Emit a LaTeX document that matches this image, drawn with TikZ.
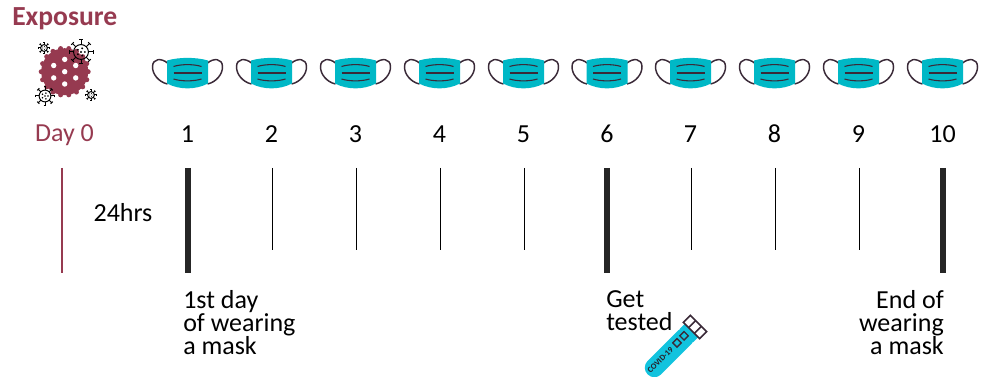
\documentclass[tikz,border=0pt]{standalone}
\usepackage{fontspec}
\setmainfont{Carlito}
\usepackage{xcolor}
\usetikzlibrary{arrows.meta, positioning}
\definecolor{maroon}{HTML}{963A50}
\definecolor{teal}{HTML}{00B8C6}
\definecolor{strap}{HTML}{3A2A38}
\definecolor{tube}{HTML}{12C3DE}

\begin{document}
\begin{tikzpicture}[
  x=0.75pt, y=-0.75pt,
  every node/.style={font=\fontsize{19.5}{17.25}\selectfont, inner sep=0pt},
  daylbl/.style={anchor=center, text=black},
  notelbl/.style={align=left, anchor=north west, text=black},
  thickbar/.style={line width=3.9pt, draw=black!85},
  thinbar/.style={line width=0.6pt, draw=black},
  mask/.pic={
    \draw[strap, line width=1.1pt] (-20,-10) .. controls (-26,-15) and (-35,-15) .. (-35,-6)
      .. controls (-35,1) and (-29,9) .. (-20,11);
    \draw[strap, line width=1.1pt] (20,-10) .. controls (26,-15) and (35,-15) .. (35,-6)
      .. controls (35,1) and (29,9) .. (20,11);
    \fill[teal] (-20.5,-12.5) .. controls (-8,-16) and (8,-16) .. (20.5,-12.5)
      -- (20.5,10.5) .. controls (8,17) and (-8,17) .. (-20.5,10.5) -- cycle;
    \draw[strap, line width=0.8pt] (-14,-6.5) .. controls (-6,-9) and (6,-9) .. (14,-6.5);
    \draw[strap, line width=0.9pt] (-14,0) -- (14,0);
    \draw[strap, line width=0.8pt] (-14,6) .. controls (-6,8.5) and (6,8.5) .. (14,6);
  },
  germ/.pic={
    \draw[black, line width=0.75pt] (0,0) circle (0.62);
    \foreach \a in {0,45,...,315}
      \draw[black, line width=0.75pt] (\a:0.62) -- (\a:1) ++(\a+90:0.15) -- ++(\a-90:0.3);
    \foreach \a in {0,72,...,288}
      \fill[black] (\a:0.32) circle (0.09);
    \fill[black] (0,0) circle (0.09);
  }
]
\useasboundingbox (0,0) rectangle (987,377);

\node[anchor=west, text=maroon, font=\fontsize{20.7}{20.7}\selectfont\bfseries] (exposure) at (12,19) {Exposure};

% virus
\fill[maroon] (64.7,71.7) circle (23.5);
\foreach \a in {0,20,...,340}
  \fill[maroon] (64.7,71.7) ++(\a:23.5) circle (2.5);
\foreach \x/\y in {0/-12.3,-11/-6.2,11/-6.2,0/0,-11/6.2,11/6.2,0/12.3}
  \fill[white] (64.7+\x,71.7+\y) circle (2.7);
\pic[scale=12] at (81,52) {germ};
\pic[scale=9.5] at (45,96) {germ};
\pic[scale=5.5] at (44,48) {germ};
\pic[scale=5.5] at (91,95) {germ};

\node[daylbl, text=maroon] (day0) at (64.5,135.5) {Day 0};
\draw[maroon, line width=1.9pt] (62,168) -- (62,273);

% Masks and day numbers
\foreach \d/\x in {1/188,2/272,3/356,4/440,5/524,6/607.5,7/691,8/775,9/859,10/943}{
  \pic at (\x-0.5,73) {mask};
  \node[daylbl] (day\d) at (\x-0.5,134) {\d};
}
% Bars
\foreach \x in {188,607,943}
  \draw[thickbar] (\x,168) -- (\x,273);
\foreach \x in {272,356,440,524,691,775,859}
  \draw[thinbar] (\x,168) -- (\x,250);

\node[text=black] (hrs) at (123,213) {24hrs};

% Notes
\node[notelbl] (first) at (183,290) {1st day\\of wearing\\a mask};
\node[notelbl] (test) at (606,290) {Get\\tested};
\node[notelbl, align=right, anchor=north east] (last) at (944,290) {End of\\wearing\\a mask};

% Test tube
\begin{scope}[shift={(695,327)}, rotate=45]
  \fill[tube, rounded corners=7pt] (-5,-9.5) -- (-5,9.5) -- (-67,9.5) -- (-67,-9.5) -- cycle;
  \fill[tube] (-12,-9.5) rectangle (-5,9.5);
  \draw[strap, line width=1.2pt, fill=white] (-5,-11.5) rectangle (5,11.5);
  \draw[strap, line width=1.2pt] (-5,-4) -- (5,-4) (-5,4) -- (5,4);
  \draw[strap, line width=1pt] (-17,-4.5) rectangle (-11,1.5) (-27,-4.5) rectangle (-21,1.5);
  \node[text=strap!70!black, font=\fontsize{6.2}{6.2}\selectfont\bfseries, rotate=45] (covid) at (-48,-1) {COVID-19};
\end{scope}
\end{tikzpicture}
\end{document}
